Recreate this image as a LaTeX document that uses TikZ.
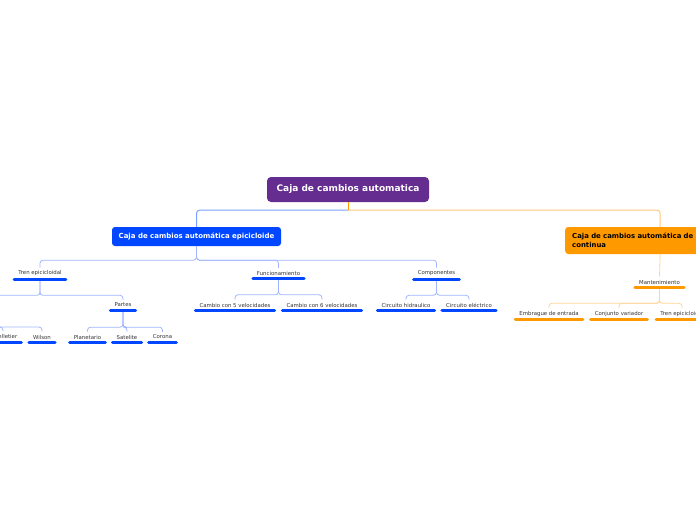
\documentclass[tikz,border=0pt]{standalone}
\usepackage{fontspec}
\setmainfont{DejaVu Sans}
\usetikzlibrary{calc}
\definecolor{rootpurple}{HTML}{662D91}
\definecolor{nodeblue}{HTML}{0047FF}
\definecolor{nodeorange}{HTML}{FF9900}
\definecolor{linkblueA}{HTML}{7BA2FF}
\definecolor{linkblueB}{HTML}{9FB6FF}
\definecolor{linkorangeA}{HTML}{FFC878}
\definecolor{linkorangeB}{HTML}{FFD49A}
\definecolor{leafgray}{HTML}{333333}
\begin{document}
\begin{tikzpicture}[x=1pt,y=-1pt,
  rootbox/.style={fill=rootpurple, rounded corners=4pt, text=white, font=\fontsize{9}{11}\selectfont\bfseries, minimum width=162pt, minimum height=25pt, inner sep=0pt},
  mainblue/.style={fill=nodeblue, rounded corners=3pt, text=white, font=\fontsize{7}{8.5}\selectfont\bfseries, minimum width=169pt, minimum height=19pt, inner sep=0pt},
  mainorange/.style={fill=nodeorange, rounded corners=3pt, text=black, font=\fontsize{6.9}{8.6}\selectfont\bfseries, minimum width=190pt, minimum height=27pt, inner xsep=7pt, inner ysep=0pt, text width=176pt, align=left},
  leaf/.style={font=\fontsize{5.4}{6.5}\selectfont, text=leafgray, inner xsep=4pt, inner ysep=3pt},
  barblue/.style={line width=3pt, line cap=round, draw=nodeblue},
  barorange/.style={line width=3pt, line cap=round, draw=nodeorange},
  linkA/.style={line width=1pt, rounded corners=3pt, draw=linkblueA},
  linkB/.style={line width=0.8pt, rounded corners=3pt, draw=linkblueB},
  olinkA/.style={line width=1pt, rounded corners=3pt, draw=linkorangeA},
  olinkB/.style={line width=0.8pt, rounded corners=3pt, draw=linkorangeB}]
\useasboundingbox (0,0) rectangle (696,520);
\clip (0,0) rectangle (696,520);

% nodes
\node[rootbox] (root) at (348,189.5) {Caja de cambios automatica};
\node[mainblue] (epi) at (196.5,236.5) {Caja de cambios automática epicicloide};
\node[mainorange, anchor=west] (cont) at (565,240.5) {Caja de cambios automática de\\continua};

\node[leaf] (tren) at (40,273.5) {Tren epicicloidal};
\node[leaf] (func) at (278.5,273.5) {Funcionamiento};
\node[leaf] (comp) at (436.5,273.5) {Componentes};

\coordinate (tipos) at (-40,298);
\coordinate (tiposS) at (-40,310);
\node[leaf] (partes) at (123,305) {Partes};
\node[leaf] (c5) at (235,305) {Cambio con 5 velocidades};
\node[leaf] (c6) at (322,305) {Cambio con 6 velocidades};
\node[leaf] (chid) at (406,305) {Circuito hidraulico};
\node[leaf] (celc) at (469,305) {Circuito eléctrico};

\node[leaf] (lep) at (3,337) {Lepelletier};
\node[leaf] (wil) at (42,337) {Wilson};
\node[leaf] (plan) at (87.5,337) {Planetario};
\node[leaf] (sat) at (127,337) {Satelite};
\node[leaf] (cor) at (162.5,337) {Corona};

\node[leaf] (mant) at (659.5,282) {Mantenimiento};
\node[leaf] (emb) at (549,314) {Embrague de entrada};
\node[leaf] (conj) at (619,314) {Conjunto variador};
\node[leaf] (tren2) at (682,314) {Tren epicicloidal};

% connectors
\draw[olinkA] ($(root.south)+(0,8)$) -| (cont.north);
\draw[linkA] ($(root.south)+(0,8)$) -| (epi.north);
\draw[line width=1pt, draw=nodeorange] (root.south) -- ($(root.south)+(0,8)$);

\foreach \c in {tren,func,comp}
  \draw[linkB] (epi.south) -- ++(0,14) -| (\c.north);
\foreach \c in {partes}
  \draw[linkB] (tren.south) -- ++(0,16) -| (\c.north);
\draw[linkB] (tren.south) -- ++(0,16) -| (tipos);
\foreach \c in {lep,wil}
  \draw[linkB] (tiposS) -- ++(0,17) -| (\c.north);
\foreach \c in {plan,sat,cor}
  \draw[linkB] (partes.south) -- ++(0,17) -| (\c.north);
\foreach \c in {c5,c6}
  \draw[linkB] (func.south) -- ++(0,16) -| (\c.north);
\foreach \c in {chid,celc}
  \draw[linkB] (comp.south) -- ++(0,16) -| (\c.north);

\draw[olinkB] (cont.south) -- (mant.north);
\foreach \c in {emb,conj,tren2}
  \draw[olinkB] (mant.south) -- ++(0,16) -| (\c.north);

% bars
\foreach \n in {tren,func,comp,partes,c5,c6,chid,celc,lep,wil,plan,sat,cor}
  \draw[barblue] (\n.south west) -- (\n.south east);
\foreach \n in {mant,emb,conj,tren2}
  \draw[barorange] (\n.south west) -- (\n.south east);
\end{tikzpicture}
\end{document}
